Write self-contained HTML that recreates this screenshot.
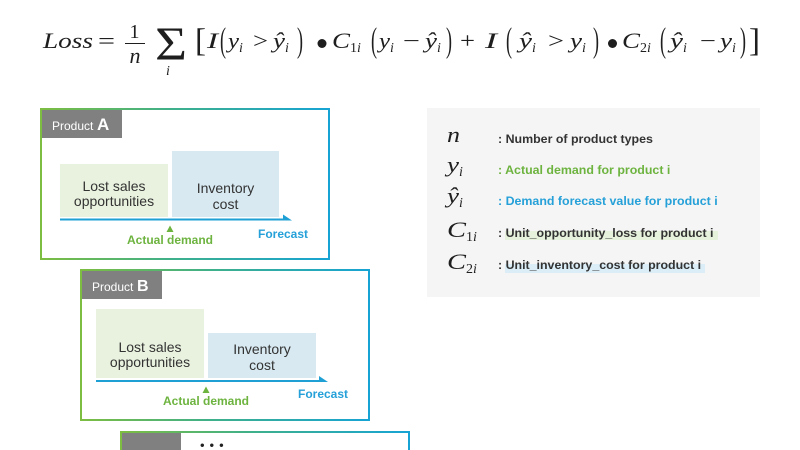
<!DOCTYPE html>
<html>
<head>
<meta charset="utf-8">
<style>
  html, body { margin: 0; padding: 0; background: #ffffff; }
  #wrap { position: relative; width: 800px; height: 450px; overflow: hidden; background: #ffffff; }
  svg { position: absolute; left: 0; top: 0; }
  .m { font-family: "Liberation Serif", "DejaVu Serif", serif; fill: #1e1e1e; }
  .it { font-style: italic; }
  .s { font-family: "Liberation Sans", Arial, sans-serif; }
</style>
</head>
<body>
<div id="wrap">
<svg width="800" height="450" viewBox="0 0 800 450" xmlns="http://www.w3.org/2000/svg">
  <defs>
    <linearGradient id="bg" x1="0" y1="0" x2="1" y2="0">
      <stop offset="0" stop-color="#7cbd42"/>
      <stop offset="0.45" stop-color="#3fb08a"/>
      <stop offset="1" stop-color="#17a4d4"/>
    </linearGradient>
  </defs>

  <!-- ===== Formula ===== -->
  <g class="m">
    <text x="43" y="48" class="it" font-size="22" textLength="50" lengthAdjust="spacingAndGlyphs">Loss</text>
    <text x="98" y="48" font-size="22" textLength="17" lengthAdjust="spacingAndGlyphs">=</text>
    <text x="134.5" y="38" font-size="20" text-anchor="middle">1</text>
    <line x1="125" y1="43.5" x2="145" y2="43.5" stroke="#1e1e1e" stroke-width="1.1"/>
    <text x="135" y="63" class="it" font-size="22" text-anchor="middle">n</text>
    <text x="155" y="60" font-size="48" textLength="32" lengthAdjust="spacingAndGlyphs">Σ</text>
    <text x="168" y="75" class="it" font-size="14" text-anchor="middle">i</text>

    <text x="200.5" y="51" font-size="33" text-anchor="middle">[</text>

    <!-- I ( y_i > ŷ_i ) -->
    <text x="207" y="48" class="it" font-size="22" textLength="11" lengthAdjust="spacingAndGlyphs">I</text>
    <text x="220" y="51.5" font-size="35" textLength="6" lengthAdjust="spacingAndGlyphs">(</text>
    <text x="228" y="48" class="it" font-size="22" textLength="11" lengthAdjust="spacingAndGlyphs">y</text>
    <text x="239" y="52" class="it" font-size="14">i</text>
    <text x="253" y="48" font-size="22" textLength="15" lengthAdjust="spacingAndGlyphs">&gt;</text>
    <text x="273" y="48" class="it" font-size="22" textLength="12" lengthAdjust="spacingAndGlyphs">ŷ</text>
    <text x="285" y="52" class="it" font-size="14">i</text>
    <text x="297" y="51.5" font-size="35" textLength="6" lengthAdjust="spacingAndGlyphs">)</text>

    <circle cx="322" cy="43.5" r="4.5" fill="#1e1e1e"/>

    <!-- C_1i ( y_i − ŷ_i ) -->
    <text x="332" y="48" class="it" font-size="22" textLength="18" lengthAdjust="spacingAndGlyphs">C</text>
    <text x="350" y="52" font-size="14">1<tspan class="it">i</tspan></text>
    <text x="371" y="51.5" font-size="35" textLength="6" lengthAdjust="spacingAndGlyphs">(</text>
    <text x="379" y="48" class="it" font-size="22" textLength="11" lengthAdjust="spacingAndGlyphs">y</text>
    <text x="390" y="52" class="it" font-size="14">i</text>
    <text x="403" y="48" font-size="22" textLength="17" lengthAdjust="spacingAndGlyphs">−</text>
    <text x="425" y="48" class="it" font-size="22" textLength="12" lengthAdjust="spacingAndGlyphs">ŷ</text>
    <text x="437" y="52" class="it" font-size="14">i</text>
    <text x="446" y="51.5" font-size="35" textLength="6" lengthAdjust="spacingAndGlyphs">)</text>

    <text x="460" y="48" font-size="22" textLength="15" lengthAdjust="spacingAndGlyphs">+</text>

    <!-- I ( ŷ_i > y_i ) -->
    <text x="485" y="48" class="it" font-size="22" textLength="12" lengthAdjust="spacingAndGlyphs">I</text>
    <text x="506" y="51.5" font-size="35" textLength="6" lengthAdjust="spacingAndGlyphs">(</text>
    <text x="519" y="48" class="it" font-size="22" textLength="13" lengthAdjust="spacingAndGlyphs">ŷ</text>
    <text x="532" y="52" class="it" font-size="14">i</text>
    <text x="548" y="48" font-size="22" textLength="16" lengthAdjust="spacingAndGlyphs">&gt;</text>
    <text x="570" y="48" class="it" font-size="22" textLength="12" lengthAdjust="spacingAndGlyphs">y</text>
    <text x="582" y="52" class="it" font-size="14">i</text>
    <text x="593" y="51.5" font-size="35" textLength="6" lengthAdjust="spacingAndGlyphs">)</text>

    <circle cx="612.5" cy="43.5" r="4.5" fill="#1e1e1e"/>

    <!-- C_2i ( ŷ_i − y_i ) -->
    <text x="622" y="48" class="it" font-size="22" textLength="18" lengthAdjust="spacingAndGlyphs">C</text>
    <text x="640" y="52" font-size="14">2<tspan class="it">i</tspan></text>
    <text x="660" y="51.5" font-size="35" textLength="6" lengthAdjust="spacingAndGlyphs">(</text>
    <text x="670" y="48" class="it" font-size="22" textLength="13" lengthAdjust="spacingAndGlyphs">ŷ</text>
    <text x="683" y="52" class="it" font-size="14">i</text>
    <text x="700" y="48" font-size="22" textLength="16" lengthAdjust="spacingAndGlyphs">−</text>
    <text x="720" y="48" class="it" font-size="22" textLength="12" lengthAdjust="spacingAndGlyphs">y</text>
    <text x="732" y="52" class="it" font-size="14">i</text>
    <text x="740" y="51.5" font-size="35" textLength="6" lengthAdjust="spacingAndGlyphs">)</text>

    <text x="754.5" y="51" font-size="33" text-anchor="middle">]</text>
  </g>

  <!-- ===== Legend panel ===== -->
  <rect x="427" y="108" width="333" height="189" fill="#f5f5f5"/>
  <rect x="505" y="231" width="213" height="9" fill="#e6f2dc"/>
  <rect x="505" y="264" width="200" height="9" fill="#dbedf6"/>

  <g class="m">
    <text x="447" y="142" class="it" font-size="22" textLength="13" lengthAdjust="spacingAndGlyphs">n</text>
    <text x="447" y="172" class="it" font-size="22" textLength="12" lengthAdjust="spacingAndGlyphs">y</text>
    <text x="459" y="176" class="it" font-size="14">i</text>
    <text x="447" y="203" class="it" font-size="22" textLength="12" lengthAdjust="spacingAndGlyphs">ŷ</text>
    <text x="459" y="207" class="it" font-size="14">i</text>
    <text x="447" y="237" class="it" font-size="22" textLength="19" lengthAdjust="spacingAndGlyphs">C</text>
    <text x="466" y="241" font-size="14">1<tspan class="it">i</tspan></text>
    <text x="447" y="269" class="it" font-size="22" textLength="19" lengthAdjust="spacingAndGlyphs">C</text>
    <text x="466" y="273" font-size="14">2<tspan class="it">i</tspan></text>
  </g>

  <g class="s" font-size="12.4" font-weight="bold">
    <text x="498" y="143" fill="#333333">: Number of product types</text>
    <text x="498" y="174" fill="#6db33f">: Actual demand for product i</text>
    <text x="498" y="205" fill="#25a0d8">: Demand forecast value for product i</text>
    <text x="498" y="237" fill="#333333">: Unit_opportunity_loss for product i</text>
    <text x="498" y="269" fill="#333333">: Unit_inventory_cost for product i</text>
  </g>

  <!-- ===== Product A ===== -->
  <rect x="41" y="109" width="288" height="150" fill="#ffffff" stroke="url(#bg)" stroke-width="2"/>
  <rect x="42" y="110" width="80" height="28" fill="#808080"/>
  <text x="52" y="130" class="s" font-size="12" fill="#ffffff">Product</text>
  <text x="97" y="130" class="s" font-size="17" font-weight="bold" fill="#ffffff">A</text>

  <rect x="60" y="164" width="108" height="53" fill="#e9f2df"/>
  <rect x="172" y="151" width="107" height="66" fill="#d8e9f1"/>
  <g class="s" font-size="14" fill="#333333" text-anchor="middle">
    <text x="114" y="191">Lost sales</text>
    <text x="114" y="206">opportunities</text>
    <text x="225.5" y="193">Inventory</text>
    <text x="225.5" y="209">cost</text>
  </g>
  <rect x="60" y="218.5" width="224" height="2" fill="#1ea0d5"/>
  <polygon points="283,214.5 292,220.5 283,220.5" fill="#1ea0d5"/>
  <polygon points="166.5,232 173.5,232 170,225.5" fill="#6db33f"/>
  <text x="170" y="244" class="s" font-size="12" font-weight="bold" fill="#6db33f" text-anchor="middle">Actual demand</text>
  <text x="258" y="238" class="s" font-size="12" font-weight="bold" fill="#25a0d8">Forecast</text>

  <!-- ===== Product B ===== -->
  <rect x="81" y="270" width="288" height="150" fill="#ffffff" stroke="url(#bg)" stroke-width="2"/>
  <rect x="82" y="271" width="80" height="28" fill="#808080"/>
  <text x="92" y="291" class="s" font-size="12" fill="#ffffff">Product</text>
  <text x="137" y="291" class="s" font-size="16" font-weight="bold" fill="#ffffff">B</text>

  <rect x="96" y="309" width="108" height="69" fill="#e9f2df"/>
  <rect x="208" y="333" width="108" height="45" fill="#d8e9f1"/>
  <g class="s" font-size="14" fill="#333333" text-anchor="middle">
    <text x="150" y="352">Lost sales</text>
    <text x="150" y="367">opportunities</text>
    <text x="262" y="354">Inventory</text>
    <text x="262" y="370">cost</text>
  </g>
  <rect x="96" y="380" width="224" height="2" fill="#1ea0d5"/>
  <polygon points="319,376 328,382 319,382" fill="#1ea0d5"/>
  <polygon points="202.5,393 209.5,393 206,386.5" fill="#6db33f"/>
  <text x="206" y="405" class="s" font-size="12" font-weight="bold" fill="#6db33f" text-anchor="middle">Actual demand</text>
  <text x="298" y="398" class="s" font-size="12" font-weight="bold" fill="#25a0d8">Forecast</text>

  <!-- ===== Product ... ===== -->
  <rect x="121" y="432" width="288" height="40" fill="#ffffff" stroke="url(#bg)" stroke-width="2"/>
  <rect x="122" y="433" width="59" height="20" fill="#808080"/>
  <text x="200" y="449.5" class="s" font-size="13" fill="#222222" letter-spacing="5">•••</text>
</svg>
</div>
</body>
</html>
